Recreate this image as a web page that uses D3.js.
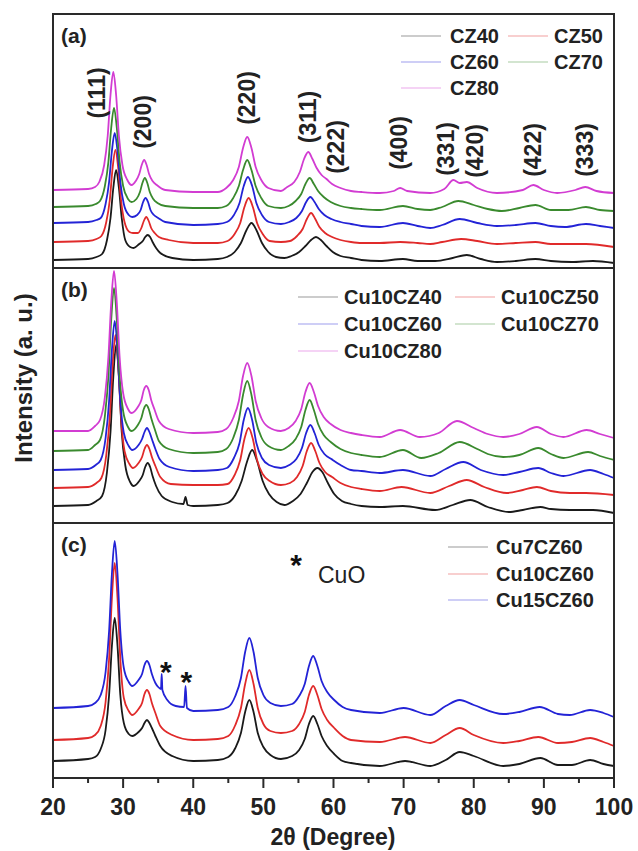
<!DOCTYPE html>
<html>
<head>
<meta charset="utf-8">
<script src="https://cdn.jsdelivr.net/npm/d3@7"></script>
<style>
  body { margin: 0; background: #fff; }
  svg { display: block; font-family: "Liberation Sans", Arial, sans-serif; }
</style>
</head>
<body>
<svg id="chart" width="638" height="851"></svg>
<script>
// x axis
const xTicks = [20, 30, 40, 50, 60, 70, 80, 90, 100]
const xMinor = [25, 35, 45, 55, 65, 75, 85, 95]

// (a) CZ series, [2theta, intensity a.u.]
const czNames = ["CZ40", "CZ50", "CZ60", "CZ70", "CZ80"]
const cz40 = [[20,8],[25,9],[26.2,11],[27.0,14],[27.7,28],[28.2,50],[28.6,80],[29.0,98],[29.4,80],[29.8,50],[30.3,28],[31.0,21],[31.5,20],[32.3,24],[32.8,27],[33.15,31],[33.5,33],[33.85,31],[34.2,26],[34.7,20],[35.3,15],[37,10],[40,8],[43.5,9],[44.8,11],[45.9,16],[46.8,25],[47.6,38],[48.3,45],[49.0,38],[49.8,25],[50.7,16],[51.8,11],[53,10],[54.0,12],[55.1,16],[56.0,22],[56.8,28],[57.5,31],[58.2,28],[59.0,22],[59.9,16],[61,12],[62.5,10],[64,8],[66.6,7],[69.9,9],[72,7],[74.5,7],[77,10],[79,13],[81,9],[83.3,6],[86,7],[88.8,9],[91,7],[94,6],[97,7],[100,5]]
const cz50 = [[20,26],[25,27],[26.2,29],[26.9,32],[27.6,46],[28.1,68],[28.5,100],[28.9,118],[29.3,100],[29.7,68],[30.2,46],[30.9,36],[31.4,35],[32.1,35],[32.6,40],[32.95,47],[33.3,51],[33.65,47],[34.0,40],[34.5,35],[35.1,31],[36.5,28],[40,25],[43.5,25],[44.9,27],[45.9,34],[46.7,45],[47.3,61],[47.9,70],[48.5,61],[49.1,45],[49.9,34],[50.9,27],[52.5,26],[53.8,27],[54.8,32],[55.6,39],[56.2,49],[56.8,55],[57.4,49],[58.0,41],[58.8,35],[59.8,31],[61,28],[62.5,26],[64,25],[66.6,25],[69.5,26],[72,25],[73.8,24],[75.5,26],[78.2,29],[80.5,27],[83.3,24],[86,25],[88.8,26],[91,24],[94,24],[96,24],[100,21]]
const cz60 = [[20,45],[25,46],[26.2,48],[26.8,50],[27.5,64],[28.0,86],[28.4,117],[28.8,135],[29.2,117],[29.6,86],[30.1,64],[30.8,53],[31.3,51],[32.0,53],[32.5,58],[32.85,66],[33.2,70],[33.55,66],[33.9,58],[34.4,53],[35.0,50],[36,46],[40,43],[43.5,44],[44.8,46],[45.8,53],[46.6,65],[47.2,82],[47.8,91],[48.4,82],[49.0,65],[49.8,53],[50.8,46],[52.5,44],[53.7,46],[54.7,50],[55.5,57],[56.1,66],[56.7,71],[57.3,66],[57.9,59],[58.7,53],[59.7,49],[61,46],[62.5,44],[64,42],[66.6,41],[69.9,45],[72,42],[73.8,40],[75.5,43],[78,49],[80.5,45],[83.3,42],[86,43],[88.8,45],[91,42],[93,41],[96,44],[98,42],[100,40]]
const cz70 = [[20,61],[25,62],[26.1,64],[26.7,67],[27.4,82],[27.9,106],[28.3,140],[28.7,160],[29.1,140],[29.5,106],[30.0,82],[30.7,69],[31.2,66],[31.9,69],[32.4,76],[32.75,85],[33.1,90],[33.45,85],[33.8,76],[34.3,69],[34.9,65],[36,62],[40,60],[43.5,60],[44.7,62],[45.7,70],[46.5,82],[47.1,98],[47.7,108],[48.3,98],[48.9,82],[49.7,70],[50.7,62],[52.5,60],[53.6,62],[54.6,67],[55.4,74],[56.0,84],[56.6,90],[57.2,84],[57.8,77],[58.6,71],[59.6,66],[61,62],[62.5,60],[64,59],[66.6,58],[69.9,62],[72,59],[73.8,58],[75.5,61],[77.8,67],[80,63],[82,59],[84,57],[86.5,60],[88.8,63],[91,58],[93.5,58],[96,61],[98,58],[100,57]]
const cz80 = [[20,78],[25,79],[26.0,81],[26.6,86],[27.3,103],[27.8,132],[28.2,173],[28.6,196],[29.0,173],[29.4,132],[29.9,103],[30.6,88],[31.2,83],[31.8,87],[32.3,94],[32.65,103],[33.0,108],[33.35,103],[33.7,94],[34.2,87],[34.8,83],[36,78],[40,76],[43.5,76],[44.7,80],[45.7,88],[46.5,101],[47.1,120],[47.7,131],[48.3,120],[48.9,101],[49.7,88],[50.7,80],[52.5,77],[53.4,81],[54.4,86],[55.2,96],[55.8,109],[56.4,116],[57.0,109],[57.6,100],[58.3,93],[59.0,89],[59.8,84],[61,80],[62.5,77],[64,76],[66.6,75],[68.6,77],[69.5,80],[70.5,77],[73.8,75],[75.8,79],[77.1,88],[78.0,85],[79.0,86],[80.5,80],[83.3,75],[87,78],[88.5,83],[90,78],[91.9,75],[94.5,78],[95.9,81],[97.5,77],[100,75]]

// (b) Cu10CZ series
const cu10Names = ["Cu10CZ40", "Cu10CZ50", "Cu10CZ60", "Cu10CZ70", "Cu10CZ80"]
const cu10cz40 = [[20,17],[25,18],[26.2,22],[27.0,27],[27.7,51],[28.2,91],[28.6,146],[29.0,178],[29.4,146],[29.8,91],[30.3,58],[31.0,41],[31.5,37],[32.3,42],[32.8,48],[33.15,56],[33.5,60],[33.85,56],[34.2,47],[34.7,37],[35.5,27],[37,21],[38.6,19],[38.9,26],[39.2,18],[40,17],[43.5,18],[44.9,20],[46.0,28],[46.9,42],[47.7,62],[48.4,73],[49.1,62],[49.9,42],[50.8,29],[51.9,21],[53,18],[54.2,22],[55.3,29],[56.2,40],[57.0,51],[57.7,55],[58.4,51],[59.2,40],[60.1,29],[61.2,22],[62.5,19],[64,17],[66.6,16],[69.9,17],[74.5,13],[77,18],[79.5,23],[82,16],[85,11],[87,13],[89.5,16],[91,14],[93.7,13],[97,13],[100,10]]
const cu10cz50 = [[20,35],[25,36],[26.2,40],[26.9,45],[27.6,68],[28.1,106],[28.5,158],[28.9,188],[29.3,158],[29.7,106],[30.2,72],[30.9,59],[31.4,55],[32.2,60],[32.7,66],[33.05,74],[33.4,78],[33.75,74],[34.1,66],[34.6,57],[35.3,46],[36.8,39],[40,38],[43.5,38],[44.9,39],[45.9,48],[46.7,63],[47.3,84],[47.9,95],[48.5,84],[49.1,63],[49.9,49],[50.9,42],[52.5,38],[53.8,40],[54.8,46],[55.6,57],[56.2,72],[56.8,80],[57.4,72],[58.0,60],[58.8,51],[59.8,46],[61,40],[62.5,36],[64,34],[66.6,32],[69.7,36],[73.8,30],[76.5,37],[79,43],[81.5,36],[84.7,30],[87,33],[89,36],[91,32],[93.7,30],[96,30],[100,28]]
const cu10cz60 = [[20,53],[25,54],[26.1,58],[26.8,63],[27.5,85],[28.0,122],[28.4,173],[28.8,202],[29.2,173],[29.6,122],[30.1,90],[30.8,77],[31.3,73],[32.2,78],[32.7,84],[33.05,91],[33.4,95],[33.75,91],[34.1,84],[34.6,74],[35.2,64],[36.6,56],[40,52],[43.5,53],[44.8,55],[45.8,65],[46.6,80],[47.2,103],[47.8,115],[48.4,103],[49.0,80],[49.8,65],[50.8,58],[52.5,55],[53.7,58],[54.7,64],[55.5,75],[56.1,90],[56.7,98],[57.3,90],[57.9,78],[58.7,69],[59.7,64],[61,58],[62.5,53],[64,52],[66.6,50],[69.9,53],[73.8,47],[76,54],[78.5,61],[81,53],[84.2,48],[86.5,51],[89.2,55],[91,50],[92.8,47],[96.6,53],[98.5,49],[100,45]]
const cu10cz70 = [[20,72],[25,73],[26.0,78],[26.7,83],[27.4,107],[27.9,147],[28.3,203],[28.7,235],[29.1,203],[29.5,147],[30.0,112],[30.7,96],[31.2,92],[32.1,98],[32.6,105],[32.95,114],[33.3,118],[33.65,114],[34.0,105],[34.5,94],[35.1,82],[36.5,74],[40,70],[43.5,71],[44.7,74],[45.7,85],[46.5,103],[47.1,128],[47.7,142],[48.3,128],[48.9,103],[49.7,86],[50.7,77],[52.5,73],[53.6,77],[54.6,84],[55.4,96],[56.0,113],[56.6,123],[57.2,113],[57.8,99],[58.6,88],[59.6,81],[61,74],[62.5,70],[64,68],[66.6,66],[69.9,73],[72.5,65],[75,70],[78,81],[80.5,74],[82,69],[84.2,66],[86.5,68],[89.2,75],[91,69],[92.8,65],[96.3,71],[98,67],[100,63]]
const cu10cz80 = [[20,92],[25,92],[26.0,97],[26.7,103],[27.4,126],[27.9,166],[28.3,220],[28.7,252],[29.1,220],[29.5,166],[30.0,130],[30.7,114],[31.2,110],[32.1,116],[32.6,123],[32.95,133],[33.3,137],[33.65,133],[34.0,123],[34.5,113],[35.1,102],[36.5,94],[40,90],[43.5,91],[44.7,94],[45.7,105],[46.5,122],[47.1,147],[47.7,160],[48.3,147],[48.9,122],[49.7,105],[50.7,96],[52.5,92],[53.6,95],[54.6,102],[55.4,114],[56.0,131],[56.6,140],[57.2,131],[57.8,117],[58.6,106],[59.6,99],[61,93],[62.5,90],[64,88],[66.6,86],[69.5,93],[72.3,86],[75,90],[77.6,102],[80,95],[82,89],[84.2,86],[86.5,89],[89,96],[91,89],[92.8,86],[96.1,93],[98,89],[100,85]]

// (c) CuxCZ60 series
const cuNames = ["Cu7CZ60", "Cu10CZ60", "Cu15CZ60"]
const cu7 = [[20,17],[25,19],[26.0,21],[26.8,29],[27.5,48],[28.0,83],[28.4,132],[28.8,160],[29.2,132],[29.6,83],[30.1,55],[30.8,44],[31.3,42],[32.2,46],[32.7,50],[33.05,55],[33.4,58],[33.75,55],[34.1,50],[34.6,42],[35.3,32],[37,22],[40,17],[43.5,18],[45.0,21],[46.0,30],[46.8,45],[47.4,66],[48.0,78],[48.6,66],[49.2,45],[50.0,31],[51.0,23],[52.5,19],[54.1,22],[55.1,28],[55.9,39],[56.5,54],[57.1,62],[57.7,54],[58.3,42],[59.1,32],[60.1,24],[61.3,17],[62.5,15],[66.6,12],[70.2,17],[73.8,12],[76,18],[78,26],[80,22],[84.2,12],[86.5,14],[89.5,20],[92,13],[94,13],[96.6,18],[98.5,14],[100,12]]
const cu10 = [[20,38],[25,40],[26.0,43],[26.8,52],[27.5,76],[28.0,119],[28.4,180],[28.8,215],[29.2,180],[29.6,119],[30.1,80],[30.8,67],[31.3,63],[32.2,69],[32.7,75],[33.05,84],[33.4,88],[33.75,84],[34.1,75],[34.6,65],[35.3,52],[37,43],[40,38],[43.5,39],[45.0,42],[46.0,53],[46.8,70],[47.4,94],[48.0,108],[48.6,94],[49.2,70],[50.0,54],[51.0,47],[52.5,45],[54.1,47],[55.1,54],[55.9,66],[56.5,83],[57.1,92],[57.7,83],[58.3,69],[59.1,58],[60.1,50],[61.3,42],[62.5,38],[66.6,36],[70.2,41],[73.8,35],[76,43],[78,50],[80,43],[84.2,35],[86.5,37],[89.2,41],[92,35],[94,36],[96.6,40],[98.5,36],[100,32]]
const cu15 = [[20,70],[25,72],[26.0,75],[26.8,83],[27.5,106],[28.0,147],[28.4,204],[28.8,237],[29.2,204],[29.6,147],[30.1,110],[30.8,96],[31.3,92],[32.2,98],[32.7,104],[33.05,113],[33.4,117],[33.75,113],[34.1,104],[34.6,95],[35.0,91],[35.4,89],[35.5,104],[35.6,88],[36.3,78],[37.5,72],[38.7,71],[38.9,92],[39.1,70],[40,67],[43.5,68],[45.0,71],[46.0,82],[46.8,100],[47.4,126],[48.0,140],[48.6,126],[49.2,100],[50.0,83],[51.0,75],[52.5,72],[54.1,74],[55.1,82],[55.9,94],[56.5,112],[57.1,122],[57.7,112],[58.3,97],[59.1,86],[60.1,78],[61.3,71],[62.5,68],[66.6,65],[70,70],[73.8,63],[76,72],[78,78],[80,73],[84.2,64],[86.5,66],[89.4,71],[92,64],[93.7,63],[96.6,68],[98.5,65],[100,61]]

// peak labels for panel (a): [label, 2theta position, intensity of label centre]
const hkl = [["(111)", 26.3, 175], ["(200)", 32.9, 146], ["(220)", 47.7, 170], ["(311)", 56.4, 151], ["(222)", 60.3, 121],
  ["(400)", 69.3, 125], ["(331)", 76.1, 119], ["(420)", 80.2, 117], ["(422)", 88.5, 118], ["(333)", 95.9, 118]]
const cuoStars = [36.1, 39.0]

const colors = ["#1a1a1a", "#e02a2a", "#2323d6", "#3a8a2e", "#d23cd2"]

const svg = d3.select("#chart")
const x = d3.scaleLinear().domain([20, 100]).range([53, 614])
const fontBold = "bold"
const frame = "#2a2a2a"

const panels = [
  { top: 14, bottom: 268, tag: "(a)", names: czNames, data: [cz40, cz50, cz60, cz70, cz80], cols: colors,
    legend: { rows: [36, 62, 88], cols: [[401, 441, 450], [508, 548, 554]] } },
  { top: 268, bottom: 523, tag: "(b)", names: cu10Names, data: [cu10cz40, cu10cz50, cu10cz60, cu10cz70, cu10cz80], cols: colors,
    legend: { rows: [297, 324, 351], cols: [[298, 338, 344], [455, 495, 501]] } },
  { top: 523, bottom: 778, tag: "(c)", names: cuNames, data: [cu7, cu10, cu15], cols: [colors[0], colors[1], colors[2]],
    legend: { rows: [547, 574, 600], cols: [[448, 488, 496]], single: true } }
]

panels.forEach((p, pi) => {
  const y = d3.scaleLinear().domain([0, p.bottom - p.top]).range([p.bottom, p.top])
  const g = svg.append("g")
  const line = d3.line().x(d => x(d[0])).y(d => y(d[1])).curve(d3.curveMonotoneX)

  g.selectAll("path.xrd").data(p.data).join("path")
    .attr("class", "xrd")
    .attr("d", line)
    .attr("fill", "none")
    .attr("stroke", (d, i) => p.cols[i])
    .attr("stroke-width", 1.8)
    .attr("stroke-linejoin", "round")

  g.append("rect")
    .attr("x", x(20)).attr("y", p.top)
    .attr("width", x(100) - x(20)).attr("height", p.bottom - p.top)
    .attr("fill", "none").attr("stroke", frame).attr("stroke-width", 2)

  g.append("text").attr("x", 61).attr("y", p.top + 29)
    .attr("font-size", 21).attr("font-weight", fontBold).attr("fill", "#222")
    .text(p.tag)

  // legend
  p.names.forEach((name, i) => {
    let row, col
    if (p.legend.single) { row = i; col = 0 } else { row = Math.floor(i / 2); col = i % 2 }
    const [x1, x2, tx] = p.legend.cols[col]
    const ly = p.legend.rows[row]
    g.append("line").attr("x1", x1).attr("x2", x2).attr("y1", ly).attr("y2", ly)
      .attr("stroke", p.cols[i]).attr("stroke-opacity", 0.45).attr("stroke-width", 1)
    g.append("text").attr("x", tx).attr("y", ly + 7)
      .attr("font-size", 20).attr("font-weight", fontBold).attr("fill", "#222")
      .text(name)
  })

  if (pi === 0) {
    g.selectAll("text.hkl").data(hkl).join("text")
      .attr("class", "hkl")
      .attr("transform", d => `translate(${x(d[1]) + 8},${y(d[2])}) rotate(-90)`)
      .attr("text-anchor", "middle")
      .attr("font-size", 23).attr("font-weight", fontBold).attr("fill", "#222")
      .text(d => d[0])
  }

  if (pi === 2) {
    g.selectAll("text.star").data(cuoStars).join("text")
      .attr("class", "star")
      .attr("x", d => x(d)).attr("y", (d, i) => y(i === 0 ? 113 : 103) + 17)
      .attr("text-anchor", "middle")
      .attr("font-size", 30).attr("font-weight", fontBold).attr("fill", "#111")
      .text("*")
    g.append("text").attr("x", 296).attr("y", 558 + 17).attr("text-anchor", "middle")
      .attr("font-size", 30).attr("font-weight", fontBold).attr("fill", "#111").text("*")
    g.append("text").attr("x", 318).attr("y", 583)
      .attr("font-size", 23).attr("fill", "#222").text("CuO")

    // bottom axis
    const axis = g.append("g").attr("transform", `translate(0,${p.bottom})`)
    axis.selectAll("line.major").data(xTicks).join("line")
      .attr("class", "major")
      .attr("x1", d => x(d)).attr("x2", d => x(d)).attr("y1", 0).attr("y2", 10)
      .attr("stroke", frame).attr("stroke-width", 2)
    axis.selectAll("line.minor").data(xMinor).join("line")
      .attr("class", "minor")
      .attr("x1", d => x(d)).attr("x2", d => x(d)).attr("y1", 0).attr("y2", 5)
      .attr("stroke", frame).attr("stroke-width", 2)
    axis.selectAll("text").data(xTicks).join("text")
      .attr("x", d => x(d)).attr("y", 37)
      .attr("text-anchor", "middle")
      .attr("font-size", 23).attr("font-weight", fontBold).attr("fill", "#222")
      .text(d => d)
  }
})

svg.append("text").attr("x", 333).attr("y", 845).attr("text-anchor", "middle")
  .attr("font-size", 23).attr("font-weight", fontBold).attr("fill", "#222")
  .text("2θ (Degree)")

svg.append("text").attr("transform", "translate(32,378) rotate(-90)").attr("text-anchor", "middle")
  .attr("font-size", 24).attr("font-weight", fontBold).attr("fill", "#222")
  .text("Intensity (a. u.)")
</script>
</body>
</html>
